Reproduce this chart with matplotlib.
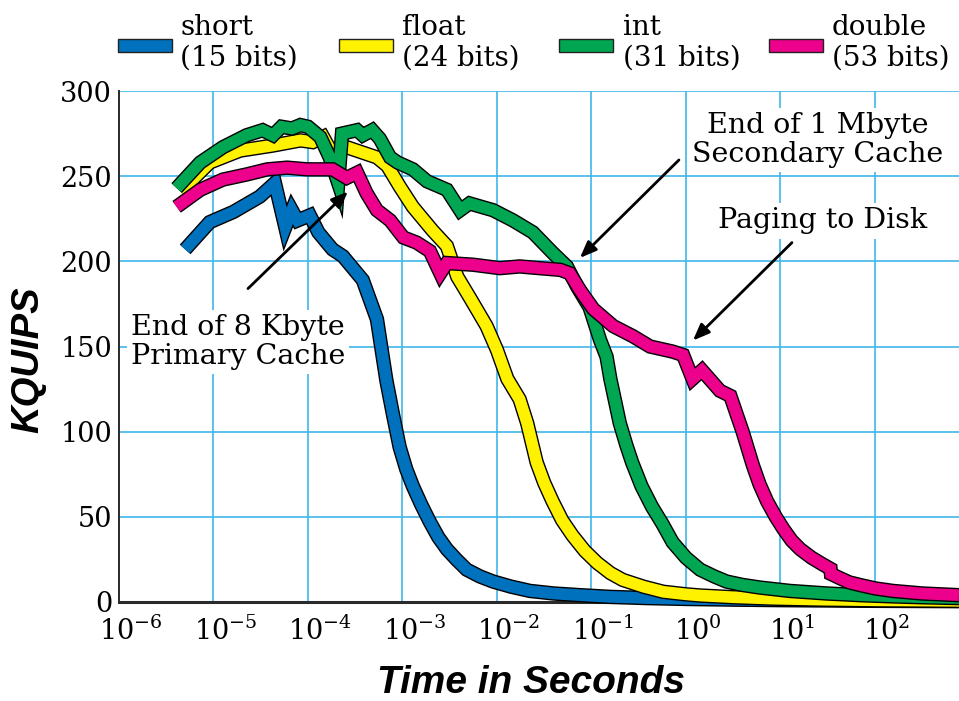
import numpy as np
import matplotlib
matplotlib.use('Agg')
import matplotlib.pyplot as plt
import matplotlib.patheffects as pe
from matplotlib.patches import Rectangle
from matplotlib.ticker import NullLocator, FixedLocator
from matplotlib.transforms import ScaledTranslation

# series: log10(time in seconds) and KQUIPS
short_lt = [-5.30, -5.04, -4.79, -4.51, -4.35, -4.24, -4.17, -4.11, -3.98, -3.89, -3.74, -3.63,
            -3.42, -3.27, -3.17, -3.10, -3.03, -2.96, -2.89, -2.80, -2.71, -2.62, -2.53, -2.43,
            -2.32, -2.18, -2.04, -1.85, -1.65, -1.40, -1.12, -0.80, -0.41, 0.00, 0.50, 1.00,
            1.50, 2.00, 2.89]
short_v = [207, 223, 229, 238, 246, 220, 230, 224, 227, 217, 207, 203,
           189, 166, 130, 110, 91, 78, 68, 57, 47, 38, 31, 25,
           19, 15, 12, 9, 6.5, 5, 4, 3, 2.3, 1.8, 1.4, 1.1,
           0.9, 0.7, 0.5]

float_lt = [-5.35, -5.04, -4.72, -4.37, -4.08, -3.95, -3.84, -3.75, -3.59, -3.27, -3.16, -3.03,
            -2.89, -2.68, -2.53, -2.42, -2.29, -2.11, -2.00, -1.89, -1.76, -1.68, -1.58, -1.50,
            -1.41, -1.31, -1.20, -1.07, -0.94, -0.80, -0.67, -0.45, -0.24, 0.00, 0.15, 0.50,
            0.90, 1.40, 2.00, 2.89]
float_v = [241, 258, 265, 268, 271, 270, 273, 264, 267, 261, 256, 244,
           232, 218, 209, 191, 179, 162, 148, 131, 119, 105, 82, 70,
           59, 48, 39, 30, 23, 17, 13, 9, 6, 4.5, 3.8, 2.8,
           2.0, 1.4, 1.0, 0.7]

int_lt = [-5.39, -5.14, -4.90, -4.65, -4.48, -4.37, -4.28, -4.17, -4.08, -4.00, -3.87, -3.77,
          -3.68, -3.64, -3.48, -3.42, -3.32, -3.24, -3.13, -3.05, -2.89, -2.74, -2.53, -2.39,
          -2.29, -2.04, -1.83, -1.62, -1.41, -1.26, -1.15, -1.02, -0.91, -0.84, -0.80, -0.70,
          -0.63, -0.57, -0.47, -0.36, -0.25, -0.14, 0.00, 0.15, 0.30, 0.43, 0.60, 0.78,
          1.10, 1.49, 1.85, 2.19, 2.50, 2.89]
int_v = [243, 258, 267, 274, 277, 274, 279, 278, 280, 279, 273, 261,
         246, 275, 277, 274, 277, 272, 261, 258, 254, 247, 242, 230,
         234, 230, 224, 217, 205, 197, 185, 173, 154, 144, 131, 105,
         92, 82, 68, 56, 46, 35, 26, 19, 15, 12, 10, 8.5,
         6.5, 5, 4, 3.3, 2.8, 2.3]

double_lt = [-5.39, -5.14, -4.90, -4.65, -4.43, -4.22, -4.01, -3.74, -3.59, -3.48, -3.38, -3.27,
             -3.13, -2.99, -2.85, -2.71, -2.60, -2.53, -2.25, -1.97, -1.76, -1.55, -1.33, -1.23,
             -1.12, -0.98, -0.77, -0.56, -0.38, -0.14, -0.03, 0.07, 0.17, 0.36, 0.47, 0.60,
             0.71, 0.78, 0.86, 0.95, 1.03, 1.12, 1.21, 1.33, 1.45, 1.53, 1.535, 1.63,
             1.73, 1.84, 2.00, 2.19, 2.50, 2.89]
double_v = [232, 242, 248, 251, 254, 255, 254, 254, 249, 252, 240, 230,
            224, 214, 211, 206, 193, 199, 198, 196, 197, 196, 195, 193,
            183, 172, 162, 156, 150, 147, 145, 131, 136, 124, 121, 100,
            80, 69, 59, 50, 43, 36, 31, 26, 22, 19.5, 16.5, 14,
            11.5, 10, 8, 6.5, 5, 4]

names = ['short\n(15 bits)', 'float\n(24 bits)', 'int\n(31 bits)', 'double\n(53 bits)']
colors = ['#0071bc', '#fff200', '#00a651', '#ec008c']
xticks_exp = [-6, -5, -4, -3, -2, -1, 0, 1, 2]
yticks = [0, 50, 100, 150, 200, 250, 300]

W, H = 959, 701
plt.rcParams['font.family'] = 'DejaVu Serif'
fig = plt.figure(figsize=(W / 100, H / 100), dpi=100)
ax = fig.add_axes([119 / W, 1 - 602 / H, 1 - 119 / W, (602 - 91) / H])

grid_c = '#3fb6ea'
series = [(short_lt, short_v), (float_lt, float_v), (int_lt, int_v), (double_lt, double_v)]
for (lt, v), c in zip(series, colors):
    t = 10.0 ** np.array(lt)
    ax.plot(t, v, color=c, lw=8.4, solid_capstyle='butt', solid_joinstyle='miter',
            clip_on=False, zorder=3,
            path_effects=[pe.Stroke(linewidth=10.4, foreground='black', capstyle='butt',
                                    joinstyle='miter'), pe.Normal()])

ax.set_xscale('log')
ax.set_xlim(1e-6, 10 ** 2.89)
ax.set_ylim(0, 300)
ax.xaxis.set_major_locator(FixedLocator([10.0 ** e for e in xticks_exp]))
ax.xaxis.set_minor_locator(NullLocator())
ax.set_yticks(yticks)
ax.grid(True, color=grid_c, lw=1.2)
ax.set_axisbelow(True)
ax.tick_params(length=0, labelsize=19.5)
ax.tick_params(axis='x', pad=11)
ax.tick_params(axis='y', pad=5)
for s in ['top', 'right']:
    ax.spines[s].set_visible(False)
ax.spines['left'].set_color('#2a2a2a')
ax.spines['left'].set_linewidth(1.4)
ax.spines['bottom'].set_color('#2a2a2a')
ax.spines['bottom'].set_linewidth(2.2)
ax.spines['bottom'].set_zorder(2.5)

shift = ScaledTranslation(12 / 100, 0, fig.dpi_scale_trans)
for lab in ax.get_xticklabels():
    lab.set_transform(lab.get_transform() + shift)

# axis titles
fig.text(531 / W, 1 - 683 / H, 'Time in Seconds', ha='center', va='center',
         family='Liberation Sans', weight='bold', style='italic', fontsize=28)
fig.text(28 / W, 1 - 360 / H, 'KQUIPS', ha='center', va='center', rotation=90,
         family='Liberation Sans', weight='bold', style='italic', fontsize=27.5)

# legend across the top
leg_rect_x = [118, 339, 559, 769]
leg_text_x = [180, 402, 623, 832]
for c, n, rx, tx in zip(colors, names, leg_rect_x, leg_text_x):
    fig.add_artist(Rectangle((rx / W, 1 - 52 / H), 54 / W, 13 / H, transform=fig.transFigure,
                             facecolor=c, edgecolor='#222222', lw=1))
    fig.text(tx / W, 1 - 43 / H, n, ha='left', va='center', fontsize=20, linespacing=1.2)

# annotations
box = dict(facecolor='white', edgecolor='none', pad=3)
arrow = dict(arrowstyle='-|>,head_length=1.0,head_width=0.4', color='black', lw=2,
             shrinkA=0, shrinkB=0)
fig.text(238 / W, 1 - 342 / H, 'End of 8 Kbyte\nPrimary Cache', ha='center', va='center',
         fontsize=20.5, linespacing=1.1, bbox=box, zorder=5)
ax.annotate('', xy=(10 ** -3.577, 241), xytext=(10 ** -4.635, 184), arrowprops=arrow, zorder=6)
fig.text(818 / W, 1 - 140 / H, 'End of 1 Mbyte\nSecondary Cache', ha='center', va='center',
         fontsize=20.5, linespacing=1.1, bbox=box, zorder=5)
ax.annotate('', xy=(10 ** -1.122, 202), xytext=(10 ** -0.074, 259.5), arrowprops=arrow, zorder=6)
fig.text(823 / W, 1 - 221 / H, 'Paging to Disk', ha='center', va='center',
         fontsize=20.5, bbox=box, zorder=5)
ax.annotate('', xy=(10 ** 0.074, 153.5), xytext=(10 ** 1.122, 211), arrowprops=arrow, zorder=6)

fig.savefig('out.png', dpi=100)
